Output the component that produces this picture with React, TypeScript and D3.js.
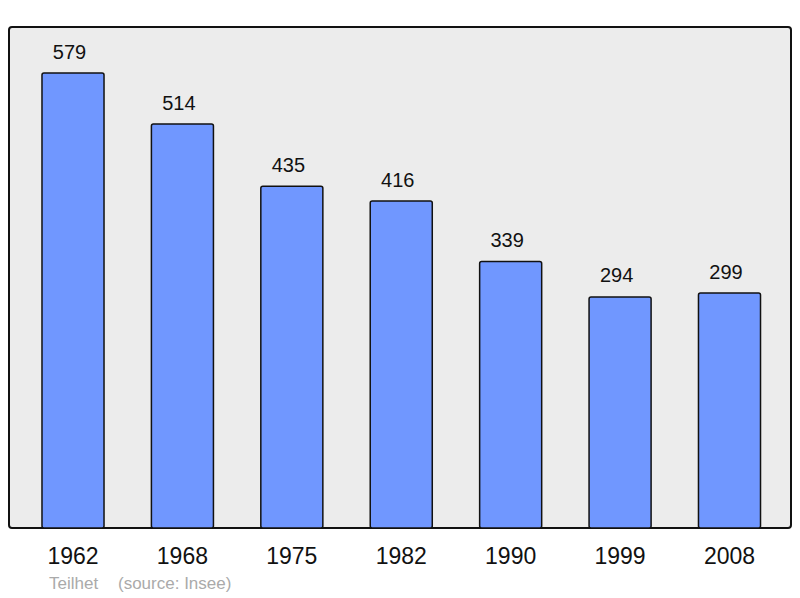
import React from "react";
import * as d3 from "d3";

const years = ["1962", "1968", "1975", "1982", "1990", "1999", "2008"];
const population = [579, 514, 435, 416, 339, 294, 299];
const commune = "Teilhet";
const sourceText = "(source: Insee)";

export default function App() {
  const W = 800, H = 598;
  const frame = { x: 9, y: 27, w: 782, h: 501 };
  const x = d3.scaleBand<string>().domain(years).range([18.3, 784.2]).paddingInner(0.433).paddingOuter(0.2165);
  const y = d3.scaleLinear().domain([0, 579]).range([528, 73]);
  return (
    <svg width={W} height={H} style={{ position: "absolute", left: 0, top: 0 }} fontFamily="'Liberation Sans', Arial, sans-serif">
      <rect x={frame.x} y={frame.y} width={frame.w} height={frame.h} rx={3} fill="#ececec" stroke="#111" strokeWidth={2} />
      {years.map((yr, i) => (
        <g key={yr}>
          <rect x={x(yr)} y={y(population[i])} width={x.bandwidth()} height={y(0) - y(population[i])} rx={2} fill="#7097ff" stroke="#111" strokeWidth={1.5} />
          <text x={(x(yr) as number) + x.bandwidth() / 2 - 3.5} y={y(population[i]) - 14.5} textAnchor="middle" fontSize={20} fill="#111">{population[i]}</text>
          <text x={(x(yr) as number) + x.bandwidth() / 2} y={564} textAnchor="middle" fontSize={23} fill="#111">{yr}</text>
        </g>
      ))}
      <text x={49} y={589} fontSize={17} fill="#aaa">{commune}</text>
      <text x={118} y={589} fontSize={17} fill="#aaa">{sourceText}</text>
    </svg>
  );
}
